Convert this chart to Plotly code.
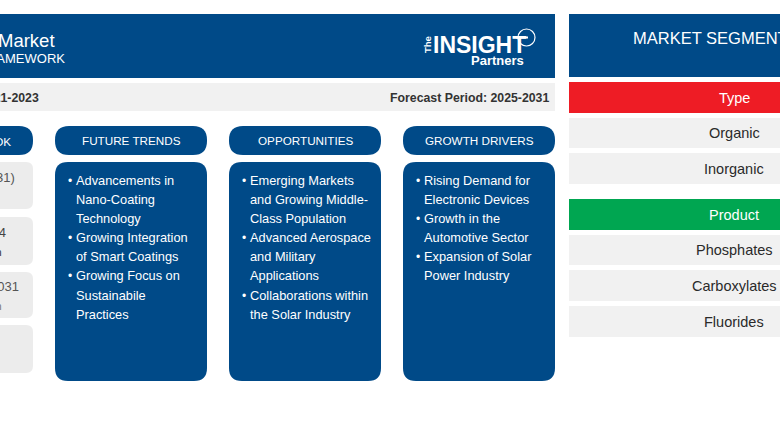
import plotly.graph_objects as go

BLUE = "#004a88"
GREY = "#f1f1f1"
CARD = "#ececec"
RED = "#ee1c25"
GREEN = "#00a651"
FONT = "Liberation Sans"

# column content
pill_labels = ["FUTURE TRENDS", "OPPORTUNITIES", "GROWTH DRIVERS"]
pill_x = [(55, 207), (229, 381), (403, 555)]
trend_lines = ["Advancements in", "Nano-Coating", "Technology", "Growing Integration", "of Smart Coatings",
               "Growing Focus on", "Sustainabile", "Practices"]
trend_bullets = [0, 3, 5]
opportunity_lines = ["Emerging Markets", "and Growing Middle-", "Class Population", "Advanced Aerospace",
                     "and Military", "Applications", "Collaborations within", "the Solar Industry"]
opportunity_bullets = [0, 3, 6]
driver_lines = ["Rising Demand for", "Electronic Devices", "Growth in the", "Automotive Sector",
                "Expansion of Solar", "Power Industry"]
driver_bullets = [0, 2, 4]
line_y = [180, 199, 218, 237, 256, 275, 295, 314]

# segments panel
segment_rows = [("Type", RED, 82, 113), ("Organic", GREY, 118, 148), ("Inorganic", GREY, 153, 184),
                ("Product", GREEN, 199, 230), ("Phosphates", GREY, 235, 265),
                ("Carboxylates", GREY, 270, 301), ("Fluorides", GREY, 306, 337)]

# left cards, cut by the page edge
left_cards = [(162, 209), (217, 265), (272, 318), (325, 373)]
left_texts = [("(2025-2031)", 17, 177, 13, "#555555"), ("2024", 8, 232, 13, "#444444"),
              ("2031", 21, 286, 13, "#555555"), ("US$ Million", 4, 252, 11, "#333333"),
              ("US$ Million", 4, 306, 11, "#777777")]


def rounded(x0, y0, x1, y1, r, color):
    path = (f"M{x0+r},{y0} L{x1-r},{y0} Q{x1},{y0} {x1},{y0+r} L{x1},{y1-r} Q{x1},{y1} {x1-r},{y1} "
            f"L{x0+r},{y1} Q{x0},{y1} {x0},{y1-r} L{x0},{y0+r} Q{x0},{y0} {x0+r},{y0} Z")
    return dict(type="path", path=path, fillcolor=color, line_width=0, layer="below")


def rect(x0, y0, x1, y1, color):
    return dict(type="rect", x0=x0, y0=y0, x1=x1, y1=y1, fillcolor=color, line_width=0, layer="below")


def label(x, y, text, size=13, color="white", anchor="center", bold=False, angle=0):
    return dict(x=x, y=y, text=f"<b>{text}</b>" if bold else text, showarrow=False, xanchor=anchor, yanchor="middle",
                textangle=angle, font=dict(family=FONT, size=size, color=color))


shapes = [rect(-5, 14, 555, 78, BLUE), rect(-5, 83, 555, 111, GREY), rect(569, 14, 785, 77, BLUE)]
notes = []

# header band
notes.append(label(57, 40, "Market", size=18.5, anchor="right"))
notes.append(label(66.5, 58, "FRAMEWORK", size=13, anchor="right"))
notes.append(label(41, 98, "Historic Period: 2021-2023", size=12.3, color="#333333", anchor="right", bold=True))
notes.append(label(551, 98, "Forecast Period: 2025-2031", size=12.3, color="#333333", anchor="right", bold=True))

# logo
notes.append(label(427, 45, "The", size=9.5, angle=-90, bold=True))
notes.append(label(479, 45, "INSIGHT", size=23, bold=True))
notes.append(label(497, 60.5, "Partners", size=13, bold=True))
shapes.append(dict(type="circle", x0=518, y0=29, x1=535, y1=46, line=dict(color="white", width=1.2)))
shapes.append(dict(type="line", x0=516, y0=37.5, x1=528, y1=37.5, line=dict(color="white", width=2)))

# left column
shapes.append(rounded(-30, 126, 33, 155, 14, BLUE))
notes.append(label(13, 141, "OUTLOOK", size=11.7, anchor="right"))
for y0, y1 in left_cards:
    shapes.append(rounded(-30, y0, 33, y1, 7, CARD))
for text, x, y, size, color in left_texts:
    notes.append(label(x, y, text, size=size, color=color, anchor="right"))

# three blue columns
columns = [(trend_lines, trend_bullets), (opportunity_lines, opportunity_bullets), (driver_lines, driver_bullets)]
for (x0, x1), title, (lines, bullets) in zip(pill_x, pill_labels, columns):
    shapes.append(rounded(x0, 126, x1, 155, 14, BLUE))
    shapes.append(rounded(x0, 162, x1, 381, 13, BLUE))
    notes.append(label((x0 + x1) / 2, 140.5, title, size=11.7))
    for i, line in enumerate(lines):
        notes.append(label(x0 + 19, line_y[i], line, size=12.8, anchor="left"))
    for i in bullets:
        notes.append(label(x0 + 15, line_y[i] + 1, "•", size=12))

# segments panel
notes.append(label(734, 38, "MARKET SEGMENTATION", size=16.5))
for text, color, y0, y1 in segment_rows:
    shapes.append(rect(569, y0, 785, y1, color))
    is_header = color != GREY
    notes.append(label(734, (y0 + y1) / 2, text, size=14.5, color="white" if is_header else "#2a2a2a"))

fig = go.Figure()
fig.update_layout(
    width=780, height=440, margin=dict(l=0, r=0, t=0, b=0),
    paper_bgcolor="white", plot_bgcolor="white", showlegend=False,
    xaxis=dict(range=[0, 780], visible=False, fixedrange=True),
    yaxis=dict(range=[440, 0], visible=False, fixedrange=True),
    shapes=shapes, annotations=notes,
)
fig.write_html("out.html", config=dict(displayModeBar=False),
               post_script="document.body.style.margin='0';")
